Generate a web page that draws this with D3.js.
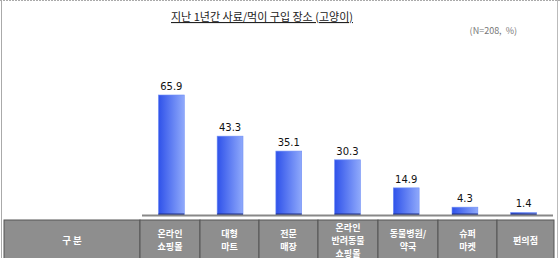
<!DOCTYPE html>
<html><head><meta charset="utf-8">
<script src="https://cdn.jsdelivr.net/npm/d3@7"></script>
<style>body{margin:0;background:#fff;font-family:"Noto Sans CJK KR","Noto Sans",sans-serif;}</style>
</head><body><svg id="c" width="560" height="258"></svg>
<script>
const categories = [["온라인","쇼핑몰"],["대형","마트"],["전문","매장"],["온라인","반려동물","쇼핑몰"],["동물병원/","약국"],["슈퍼","마켓"],["편의점"]];
const values = [65.9, 43.3, 35.1, 30.3, 14.9, 4.3, 1.4];
const headerLabel = "구 분";
const title = "지난 1년간 사료/먹이 구입 장소 (고양이)";
const note = "(N=208,  %)";

const svg = d3.select("#c");
const defs = svg.append("defs");
const g = defs.append("linearGradient").attr("id","bg").attr("x1","0").attr("x2","1").attr("y1","0").attr("y2","0");
g.append("stop").attr("offset","0%").attr("stop-color","#2f52ea");
g.append("stop").attr("offset","100%").attr("stop-color","#8fa9fb");

// frame
svg.append("line").attr("x1",0).attr("x2",560).attr("y1",0.5).attr("y2",0.5).attr("stroke","#aaa").attr("stroke-dasharray","2,1");
svg.append("line").attr("x1",1.5).attr("x2",1.5).attr("y1",0).attr("y2",258).attr("stroke","#aaa");
svg.append("line").attr("x1",557.5).attr("x2",557.5).attr("y1",0).attr("y2",258).attr("stroke","#bbb");

// title
svg.append("text").attr("x",262).attr("y",21).attr("text-anchor","middle")
  .attr("font-size",11).attr("fill","#222").attr("text-decoration","underline").text(title);
svg.append("text").attr("x",517).attr("y",34).attr("text-anchor","end").attr("font-size",9).attr("fill","#777").attr("xml:space","preserve").text(note);

const colEdges = [140,200,259,318,378,438,497,554];
const x = d3.scaleBand().domain(d3.range(values.length)).range([142,553]).paddingInner(0.56).paddingOuter(0.28);
const y = d3.scaleLinear().domain([0,65.9]).range([215,95]);

svg.append("g").selectAll("rect").data(values).join("rect")
  .attr("x",(d,i)=>x(i)).attr("width",x.bandwidth())
  .attr("y",d=>y(d)).attr("height",d=>y(0)-y(d)).attr("fill","url(#bg)")
  .attr("stroke","#6f8ef5").attr("stroke-width",0.6);
svg.append("g").selectAll("rect").data(values).join("rect")
  .attr("x",(d,i)=>x(i)).attr("width",x.bandwidth())
  .attr("y",213.5).attr("height",1.5).attr("fill","#1d2f8a");
svg.append("g").selectAll("text").data(values).join("text")
  .attr("x",(d,i)=>x(i)+x.bandwidth()/2).attr("y",d=>y(d)-5).attr("text-anchor","middle")
  .attr("font-size",10).attr("font-family","DejaVu Sans, sans-serif").attr("fill","#111").text(d=>d.toFixed(1));

svg.append("line").attr("x1",142).attr("x2",553).attr("y1",215.5).attr("y2",215.5).attr("stroke","#888").attr("stroke-width",2);

// table
const tbl = svg.append("g");
const tTop = 220, tBot = 262;
const edges = [4].concat(colEdges);
for (let i=0;i<edges.length-1;i++){
  tbl.append("rect").attr("x",edges[i]).attr("y",tTop).attr("width",edges[i+1]-edges[i]).attr("height",tBot-tTop)
    .attr("fill","#8e8e8e").attr("stroke","#555").attr("stroke-width",1);
}
const cy = 240;
tbl.append("text").attr("x",(edges[0]+edges[1])/2).attr("y",cy+3.5).attr("text-anchor","middle")
  .attr("font-size",9.5).attr("font-weight","bold").attr("fill","#fff").text(headerLabel);
categories.forEach((lines,i)=>{
  const cx = (edges[i+1]+edges[i+2])/2;
  const lh = 13;
  const start = cy + 3.5 - (lines.length-1)*lh/2;
  lines.forEach((l,j)=>tbl.append("text").attr("text-anchor","middle").attr("font-size",9)
    .attr("font-weight","bold").attr("fill","#fff").attr("x",cx).attr("y",start+j*lh).text(l));
});
</script></body></html>
